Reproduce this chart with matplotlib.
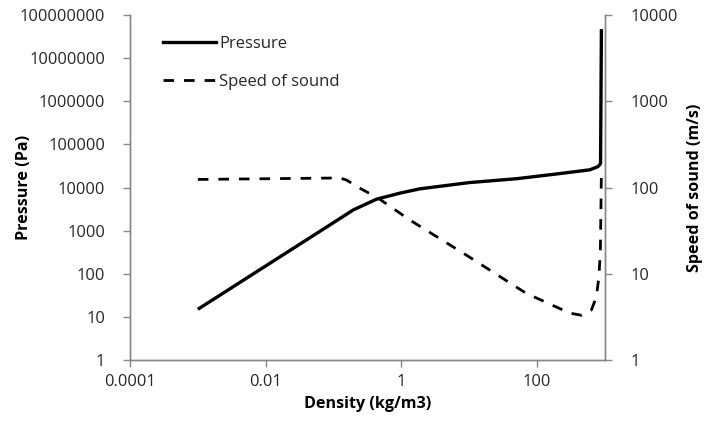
import matplotlib
matplotlib.use("Agg")
import matplotlib.pyplot as plt
from matplotlib.lines import Line2D

# ---- data ----
density_p = [0.001, 0.088, 0.195, 0.43, 0.95, 1.86, 10, 50, 214, 596, 789, 860, 885]
pressure = [15, 1350, 3020, 5360, 7400, 9300, 13000, 16000, 21000, 25700, 30500, 36000, 4.7e7]

density_c = [0.001, 0.124, 0.155, 0.245, 0.457, 1.33, 9.1, 69, 302, 449, 630, 747, 813, 855, 885]
speed = [124, 129, 122, 98, 75, 42, 16.4, 5.93, 3.5, 3.3, 3.8, 5.4, 9.2, 18.8, 150]

x_ticks = [0.0001, 0.01, 1, 100]
x_labels = ["0.0001", "0.01", "1", "100"]
p_ticks = [1, 10, 100, 1000, 10000, 100000, 1000000, 10000000, 100000000]
p_labels = ["1", "10", "100", "1000", "10000", "100000", "1000000", "10000000", "100000000"]
c_ticks = [1, 10, 100, 1000, 10000]
c_labels = ["1", "10", "100", "1000", "10000"]

plt.rcParams['font.family'] = ['Open Sans', 'DejaVu Sans']
W, H = 728, 424
fig = plt.figure(figsize=(W / 100, H / 100), dpi=100)
ax = fig.add_axes([130 / W, (H - 360) / H, 475 / W, 345 / H])
ax2 = ax.twinx()

spine_c = '#868686'
text_c = '#262626'
tick_fs = 11.8
lab_fs = 11.6

ax.plot(density_p, pressure, color='black', lw=2.4, solid_capstyle='butt', zorder=3)
ax2.plot(density_c, speed, color='black', lw=2.0, linestyle=(0, (3.8, 3.6)), zorder=3)

for a in (ax, ax2):
    a.set_xscale('log')
    a.set_xlim(0.0001, 1000)
    a.spines['top'].set_visible(False)
    for s in a.spines.values():
        s.set_color(spine_c)
        s.set_linewidth(1.0)
    a.minorticks_off()

ax.set_yscale('log')
ax.set_ylim(1, 1e8)
ax.set_yticks(p_ticks)
ax.set_yticklabels(p_labels)
ax.set_xticks(x_ticks)
ax.set_xticklabels(x_labels)
ax.minorticks_off()

ax2.set_yscale('log')
ax2.set_ylim(1, 10000)
ax2.set_yticks(c_ticks)
ax2.set_yticklabels(c_labels)
ax2.minorticks_off()

ax.tick_params(axis='y', which='major', direction='out', length=5, width=1,
               color=spine_c, labelcolor=text_c, labelsize=tick_fs, pad=13)
ax.tick_params(axis='x', which='major', direction='out', length=5, width=1,
               color=spine_c, labelcolor=text_c, labelsize=tick_fs, pad=5)
ax2.tick_params(axis='y', which='major', direction='out', length=5, width=1,
                color=spine_c, labelcolor=text_c, labelsize=tick_fs, pad=13)

ax.set_xlabel('Density (kg/m3)', fontsize=lab_fs, fontweight='bold', color='black')
ax.set_ylabel('Pressure (Pa)', fontsize=lab_fs, fontweight='bold', color='black')
ax2.set_ylabel('Speed of sound (m/s)', fontsize=lab_fs, fontweight='bold', color='black')
ax.xaxis.set_label_coords(0.5, (360 - 404) / 345, transform=ax.transAxes)
ax.yaxis.set_label_coords((24 - 130) / 475, 0.5, transform=ax.transAxes)
ax2.yaxis.set_label_coords((695 - 130) / 475, 0.5, transform=ax.transAxes)
ax.xaxis.label.set_va('center')
ax.yaxis.label.set_va('center')
ax2.yaxis.label.set_va('center')

handles = [Line2D([], [], color='black', lw=2.4),
           Line2D([], [], color='black', lw=2.0, linestyle=(0, (3.8, 3.6)))]
leg = ax.legend(handles, ['Pressure', 'Speed of sound'], loc='upper left',
                bbox_to_anchor=(0.055, 0.958), frameon=False, fontsize=12,
                handlelength=3.2, handletextpad=0.2, labelspacing=1.3, borderaxespad=0)
for t in leg.get_texts():
    t.set_color(text_c)

fig.savefig('out.png', dpi=100)
